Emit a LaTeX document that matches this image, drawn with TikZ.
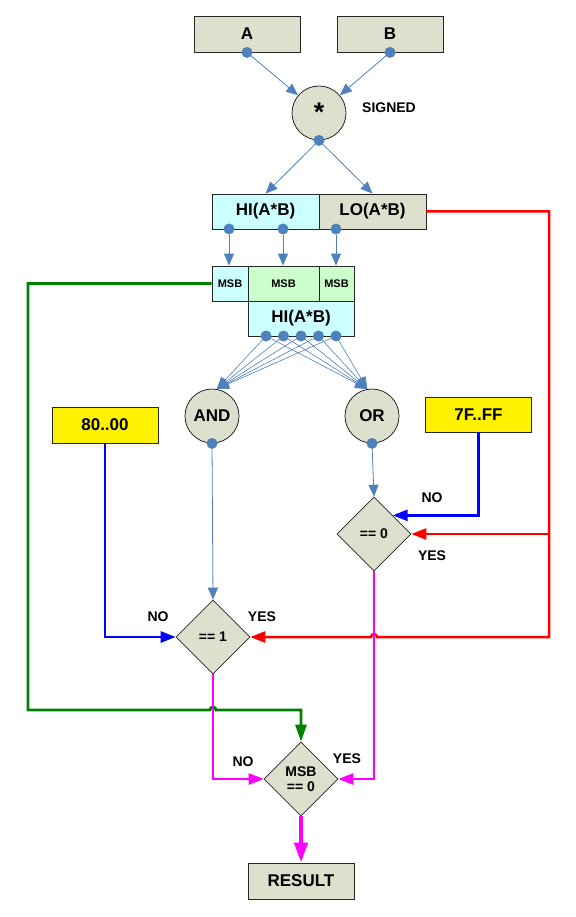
\documentclass[tikz,border=0pt]{standalone}
\usepackage{fontspec}
\setmainfont{Liberation Sans}
\usepackage{tikz}
\usetikzlibrary{arrows.meta, positioning, shapes.geometric}

\definecolor{boxgray}{RGB}{221,224,204}
\definecolor{hicyan}{RGB}{204,255,255}
\definecolor{msbgreen}{RGB}{204,255,204}
\definecolor{linkblue}{RGB}{79,129,189}
\definecolor{pathgreen}{RGB}{0,128,0}
\definecolor{pathmag}{RGB}{255,0,255}

\begin{document}
\begin{tikzpicture}[
      x=1pt, y=-1pt,
      box/.style={draw=black!85, line width=0.8pt, fill=boxgray, minimum width=106pt, minimum height=36pt, inner sep=0pt, font=\bfseries\fontsize{17}{19}\selectfont},
      msb/.style={box, minimum height=35pt, font=\bfseries\fontsize{11}{13}\selectfont},
      const/.style={box, fill=yellow},
      op/.style={circle, draw=black!85, line width=0.8pt, fill=boxgray, minimum size=54pt, inner sep=0pt, font=\bfseries\fontsize{17}{19}\selectfont},
      test/.style={diamond, aspect=1, draw=black!85, line width=0.6pt, fill=boxgray, minimum width=74pt, minimum height=74pt, inner sep=0pt, align=center, font=\bfseries\fontsize{14}{17}\selectfont},
      lbl/.style={font=\bfseries\fontsize{14}{16}\selectfont},
      dot/.style={circle, fill=linkblue, inner sep=0pt, minimum size=11pt},
      link/.style={-{Triangle[length=12pt, width=10pt]}, linkblue, line width=0.8pt},
      flow/.style={-{Triangle[length=15pt, width=11pt]}, line width=2.5pt}
    ]
    \useasboundingbox (0,0) rectangle (575,917);

    % operands and product
    \node[box] (a) at (247,34) {A};
    \node[box] (b) at (390,34) {B};
    \node[op, font=\bfseries\fontsize{27}{27}\selectfont] (mul) at (319,113) {\raisebox{2pt}{*}};
    \node[lbl] (signed) at (389,108) {SIGNED};

    \node[box, fill=hicyan, minimum width=107pt, minimum height=35pt] (hi) at (265.5,211.5) {HI(A*B)};
    \node[box, minimum width=107pt, minimum height=35pt] (lo) at (372.5,211.5) {LO(A*B)};

    \node[msb, fill=hicyan, minimum width=36pt] (msbhi) at (230,283.5) {MSB};
    \node[msb, fill=msbgreen, minimum width=71pt] (msbmid) at (283.5,283.5) {MSB};
    \node[msb, fill=msbgreen, minimum width=35pt] (msblo) at (336.5,283.5) {MSB};
    \node[box, fill=hicyan, minimum width=106pt, minimum height=35pt] (hi2) at (301,318.5) {HI(A*B)};

    % reductions and constants
    \node[op] (and) at (212,416) {AND};
    \node[op] (or) at (372,416) {OR};
    \node[const] (lim80) at (105,425) {80..00};
    \node[const, minimum height=35pt] (lim7f) at (478.5,414.5) {7F..FF};

    \node[test] (eqz) at (374,534) {== 0};
    \node[test] (eqone) at (213,637) {== 1};
    \node[test] (msbz) at (301,779) {MSB\\[-2pt]== 0};
    \node[box] (result) at (301,881) {RESULT};

    \node[lbl] at (432,498) {NO};
    \node[lbl] at (432,556) {YES};
    \node[lbl] at (158,617) {NO};
    \node[lbl] at (262,617) {YES};
    \node[lbl] at (243,762) {NO};
    \node[lbl] at (347,759) {YES};

    % blue data links
    \draw[link] (a.south) -- (mul);
    \draw[link] (b.south) -- (mul);
    \draw[link] (mul.south) -- (hi.north);
    \draw[link] (mul.south) -- (lo.north);
    \node[dot] (adot) at (a.south) {};
    \node[dot] (bdot) at (b.south) {};
    \node[dot] (muldot) at (mul.south) {};

    \node[dot] (hd1) at (229,229) {};
    \node[dot] (hd2) at (283,229) {};
    \node[dot] (ld1) at (336,229) {};
    \draw[link] (hd1) -- (hd1 |- msbhi.north);
    \draw[link] (hd2) -- (hd2 |- msbmid.north);
    \draw[link] (ld1) -- (ld1 |- msblo.north);

    \foreach \i/\x in {1/266, 2/283.5, 3/301, 4/318.5, 5/336} {
      \coordinate (bp\i) at (\x,336);
      \draw[link, line width=0.6pt] (bp\i) -- (and.80);
      \draw[link, line width=0.6pt] (bp\i) -- (or.100);
    }
    \foreach \i in {1,...,5}
      \node[dot] (bd\i) at (bp\i) {};

    \draw[link] (and.south) -- (eqone.north);
    \draw[link] (or.south) -- (eqz.north);
    \node[dot] (anddot) at (and.south) {};
    \node[dot] (ordot) at (or.south) {};

    % limits
    \draw[flow, blue] (lim80.south) |- (eqone.west);
    \draw[flow, blue] (lim7f.south) |- (eqz.north east);

    % low half check
    \coordinate (rturn) at (549,211.5);
    \coordinate (rhop) at (eqz.south |- eqone.east);
    \draw[flow, red] (lo.east) -| (rturn |- eqone.east) -- ([xshift=3pt]rhop)
      arc[start angle=0, end angle=180, radius=3pt] -- (eqone.east);
    \draw[flow, red] (rturn |- eqz.east) -- (eqz.east);

    % sign select
    \coordinate (gl) at (28,710);
    \coordinate (ghop) at (eqone.south |- gl);
    \draw[flow, pathgreen, line width=2.8pt, -{Triangle[length=17pt, width=11pt]}] (msbhi.west) -| (gl) -- ([xshift=-3pt]ghop)
      arc[start angle=180, end angle=0, radius=3pt] -| (msbz.north);

    \draw[flow, pathmag] (eqone.south) |- (msbz.west);
    \draw[flow, pathmag] (eqz.south) |- (msbz.east);
    \draw[flow, pathmag, line width=4.3pt, -{Triangle[length=20pt, width=13pt]}] (msbz.south) -- (result.north);
  \end{tikzpicture}
\end{document}
